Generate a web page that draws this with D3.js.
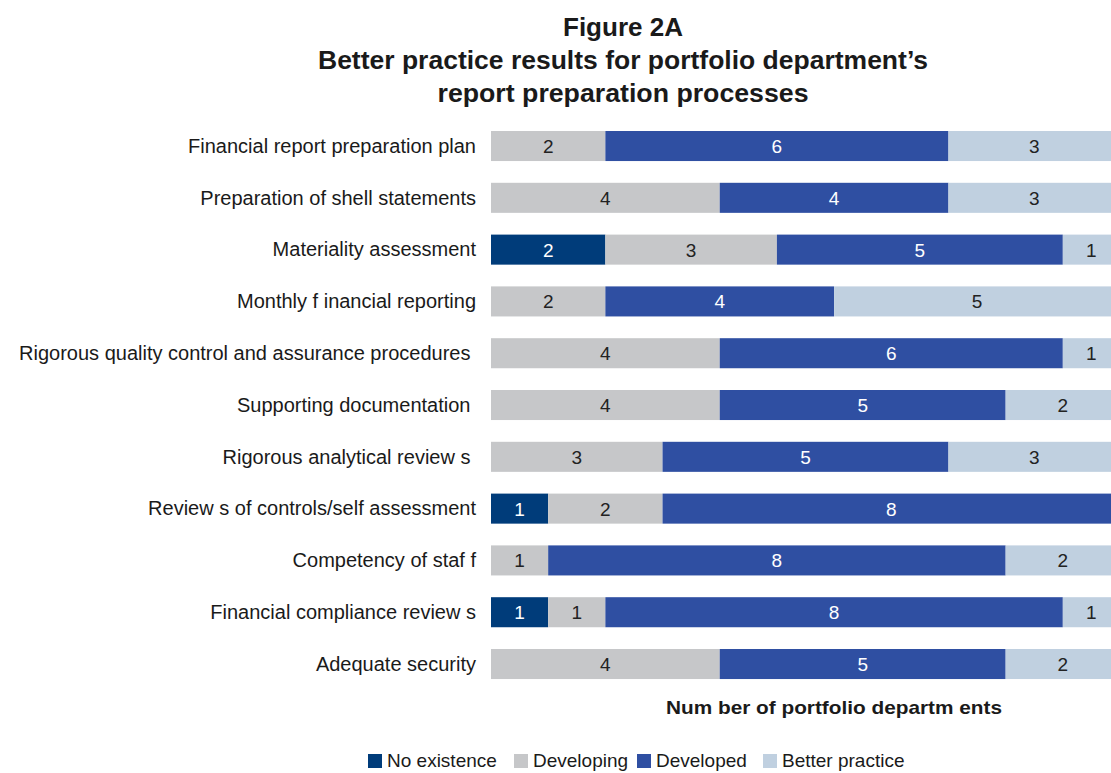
<!DOCTYPE html>
<html>
<head>
<meta charset="utf-8">
<script src="https://cdn.jsdelivr.net/npm/d3@7/dist/d3.min.js"></script>
<style>
  html, body { margin: 0; padding: 0; background: #fff; }
  svg { display: block; font-family: "Liberation Sans", Arial, sans-serif; }
  .cat { white-space: pre; }
</style>
</head>
<body>
<svg id="chart" width="1111" height="773"></svg>
<script>
// Practice areas, top to bottom
const categories = [
  "Financial report preparation plan",
  "Preparation of shell statements",
  "Materiality assessment",
  "Monthly f inancial reporting",
  "Rigorous quality control and assurance procedures ",
  "Supporting documentation ",
  "Rigorous analytical review s ",
  "Review s of controls/self assessment",
  "Competency of staf f",
  "Financial compliance review s",
  "Adequate security"
];

const seriesNames = ["No existence", "Developing", "Developed", "Better practice"];

// Number of portfolio departments at each stage
const noExistence    = [0, 0, 2, 0, 0, 0, 0, 1, 0, 1, 0];
const developing     = [2, 4, 3, 2, 4, 4, 3, 2, 1, 1, 4];
const developed      = [6, 4, 5, 4, 6, 5, 5, 8, 8, 8, 5];
const betterPractice = [3, 3, 1, 5, 1, 2, 3, 0, 2, 1, 2];

const colors = ["#003c7a", "#c6c7c9", "#2f4fa2", "#c0d0e0"];
const textColors = ["#ffffff", "#222222", "#ffffff", "#222222"];

const titleLines = [
  "Figure 2A",
  "Better practice results for portfolio department\u2019s",
  "report preparation processes"
];
const axisTitle = "Num ber of portfolio departm ents";

const rows = categories.map((c, i) => ({
  category: c,
  "No existence": noExistence[i],
  "Developing": developing[i],
  "Developed": developed[i],
  "Better practice": betterPractice[i]
}));

const stacked = d3.stack().keys(seriesNames)(rows);

const svg = d3.select("#chart");

const x = d3.scaleLinear().domain([0, 11]).range([491, 1120]);
const step = 51.8;
const y = d3.scaleBand()
  .domain(categories)
  .range([131 - step * 0.21, 131 - step * 0.21 + step * 11])
  .paddingInner(0.42)
  .paddingOuter(0.21);

// Title
const titleW = [120, 610, 371];
const titleY = [36, 69, 102];
svg.append("g").selectAll("text")
  .data(titleLines)
  .join("text")
  .attr("x", 623)
  .attr("y", (d, i) => titleY[i])
  .attr("text-anchor", "middle")
  .attr("font-weight", "bold")
  .attr("font-size", 25)
  .attr("fill", "#1a1a1a")
  .attr("textLength", (d, i) => titleW[i])
  .attr("lengthAdjust", "spacingAndGlyphs")
  .text(d => d);

// Bars
const layers = svg.append("g").selectAll("g")
  .data(stacked)
  .join("g")
  .attr("fill", (d, i) => colors[i]);

layers.selectAll("rect")
  .data(d => d.map(v => ({ v, cat: v.data.category })))
  .join("rect")
  .attr("x", d => x(d.v[0]))
  .attr("y", d => y(d.cat))
  .attr("width", d => x(d.v[1]) - x(d.v[0]))
  .attr("height", y.bandwidth());

// Segment value labels
stacked.forEach((layer, si) => {
  svg.append("g").selectAll("text")
    .data(layer.filter(v => v[1] - v[0] > 0))
    .join("text")
    .attr("x", d => (x(d[0]) + x(d[1])) / 2)
    .attr("y", d => y(d.data.category) + y.bandwidth() / 2 + 7)
    .attr("text-anchor", "middle")
    .attr("font-size", 19)
    .attr("fill", textColors[si])
    .text(d => d[1] - d[0]);
});

// Category labels
const yAxis = d3.axisLeft(y).tickSize(0).tickPadding(15);
const ya = svg.append("g").attr("transform", `translate(${x(0)},0)`).call(yAxis);
ya.select(".domain").remove();
ya.selectAll("text")
  .attr("class", "cat")
  .attr("font-size", 20)
  .attr("dy", "0.34em")
  .attr("font-family", "Liberation Sans, Arial, sans-serif")
  .attr("fill", "#1a1a1a");

// Axis title
svg.append("text")
  .attr("x", 834)
  .attr("y", 714)
  .attr("text-anchor", "middle")
  .attr("font-weight", "bold")
  .attr("font-size", 19)
  .attr("fill", "#1a1a1a")
  .attr("textLength", 336)
  .attr("lengthAdjust", "spacingAndGlyphs")
  .text(axisTitle);

// Legend
const legendX = [368, 514, 637, 763];
const legend = svg.append("g");
seriesNames.forEach((name, i) => {
  legend.append("rect")
    .attr("x", legendX[i]).attr("y", 754)
    .attr("width", 14).attr("height", 14)
    .attr("fill", colors[i]);
  legend.append("text")
    .attr("x", legendX[i] + 19).attr("y", 767)
    .attr("font-size", 19)
    .attr("fill", "#1a1a1a")
    .text(name);
});
</script>
</body>
</html>
